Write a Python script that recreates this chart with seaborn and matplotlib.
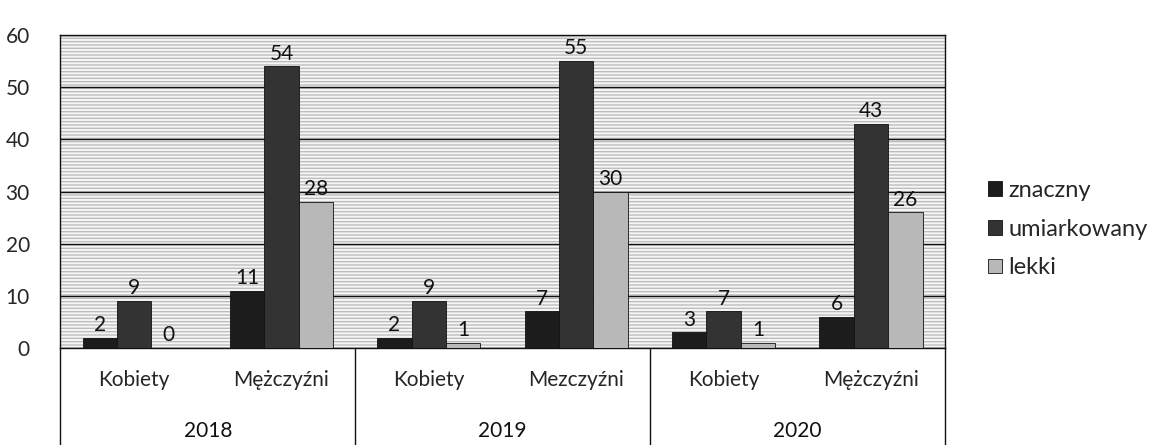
import matplotlib
matplotlib.use("Agg")
import matplotlib.pyplot as plt
import seaborn as sns
import pandas as pd
import numpy as np

years = ["2018", "2019", "2020"]
groups = ["Kobiety", "Mężczyźni", "Kobiety", "Mezczyźni", "Kobiety", "Mężczyźni"]
series = ["znaczny", "umiarkowany", "lekki"]
znaczny = [2, 11, 2, 7, 3, 6]
umiarkowany = [9, 54, 9, 55, 7, 43]
lekki = [0, 28, 1, 30, 1, 26]

cats = [f"{g}\n{i}" for i, g in enumerate(groups)]
df = pd.DataFrame({
    "cat": cats * 3,
    "stopien": np.repeat(series, len(cats)),
    "val": znaczny + umiarkowany + lekki,
})

sns.set_style("white")
plt.rcParams["font.family"] = ["Lato", "DejaVu Sans"]

fig = plt.figure(figsize=(11.62, 4.45), dpi=100)
ax = fig.add_axes([0.052, 0.218, 0.761, 0.703])

palette = {"znaczny": "#1c1c1c", "umiarkowany": "#333333", "lekki": "#b8b8b8"}
sns.barplot(data=df, x="cat", y="val", hue="stopien", hue_order=series,
            palette=palette, width=0.7, saturation=1, ax=ax, zorder=3,
            edgecolor="#111111", linewidth=0.6)

# scan-like texture on the plot area
ax.set_facecolor("#f6f6f6")
ax.patch.set_hatch("-----")
ax.patch.set_edgecolor("#bdbdbd")

for c in ax.containers:
    ax.bar_label(c, fontsize=15, padding=2, color="#111111")

ax.set_ylim(0, 60)
ax.set_xlim(-0.5, 5.5)
ax.set_yticks(range(0, 61, 10))
ax.yaxis.grid(True, color="#111111", linewidth=1.0, zorder=1)
ax.set_axisbelow(True)
ax.tick_params(axis="y", labelsize=15, length=0, pad=22)
ax.tick_params(axis="x", length=0, pad=16)
ax.set_xticks(range(len(groups)))
ax.set_xticklabels(groups, fontsize=15)
ax.set_xlabel("")
ax.set_ylabel("")
for s in ax.spines.values():
    s.set_color("#111111")
    s.set_linewidth(1.0)

# second level of the category axis: years and separators
trans = ax.get_xaxis_transform()
for i, y in enumerate(years):
    ax.text(2 * i + 0.5, -0.265, y, transform=trans, ha="center", va="center",
            fontsize=15, color="#111111")
for xb in [-0.5, 1.5, 3.5, 5.5]:
    ax.plot([xb, xb], [0, -0.31], transform=trans, color="#111111",
            linewidth=1.0, clip_on=False)

leg = ax.legend(loc="center left", bbox_to_anchor=(1.025, 0.38), frameon=False,
                fontsize=17, handlelength=0.6, handleheight=0.6,
                handletextpad=0.25, labelspacing=0.75, title=None)

fig.savefig("out.png", dpi=100)
